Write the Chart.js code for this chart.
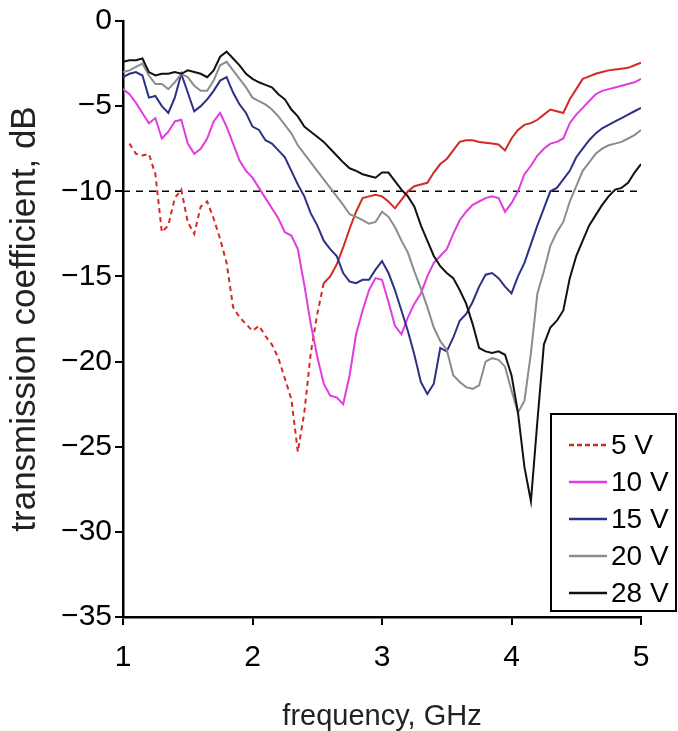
<!DOCTYPE html>
<html>
<head>
<meta charset="utf-8">
<script src="https://cdn.jsdelivr.net/npm/chart.js@4.4.1/dist/chart.umd.min.js"></script>
<style>
    html, body { margin: 0; padding: 0; background: #fff; }
    canvas { display: block; }
</style>
</head>
<body>
<canvas id="transmissionChart" width="678" height="731"></canvas>
<script>
// frequency grid, GHz
const freq = [
    1.00, 1.05, 1.10, 1.15, 1.20, 1.25, 1.30, 1.35, 1.40, 1.45,
    1.50, 1.55, 1.60, 1.65, 1.70, 1.75, 1.80, 1.85, 1.90, 1.95,
    2.00, 2.05, 2.10, 2.15, 2.20, 2.25, 2.30, 2.35, 2.40, 2.45,
    2.50, 2.55, 2.60, 2.65, 2.70, 2.75, 2.80, 2.85, 2.90, 2.95,
    3.00, 3.05, 3.10, 3.15, 3.20, 3.25, 3.30, 3.35, 3.40, 3.45,
    3.50, 3.55, 3.60, 3.65, 3.70, 3.75, 3.80, 3.85, 3.90, 3.95,
    4.00, 4.05, 4.10, 4.15, 4.20, 4.25, 4.30, 4.35, 4.40, 4.45,
    4.50, 4.55, 4.60, 4.65, 4.70, 4.75, 4.80, 4.85, 4.90, 4.95,
    5.00
];

// transmission coefficient, dB
const v5 = [
    null, -7.2, -7.8, -7.9, -7.8, -9.0, -12.4, -12.0, -10.4, -9.9,
    -11.8, -12.5, -10.9, -10.6, -11.6, -12.8, -14.2, -16.8, -17.4, -17.8,
    -18.2, -17.9, -18.5, -19.0, -19.8, -21.0, -22.2, -25.3, -23.0, -19.5,
    -17.2, -15.4, -15.0, -14.3, -13.3, -12.2, -11.2, -10.4, -10.3, -10.2,
    -10.3, -10.6, -11.0, -10.5, -10.0, -9.7, -9.6, -9.5, -8.9, -8.4,
    -8.1, -7.6, -7.1, -7.0, -7.0, -7.1, -7.15, -7.2, -7.25, -7.6,
    -6.9, -6.4, -6.1, -6.0, -5.8, -5.5, -5.2, -5.3, -5.4, -4.6,
    -4.0, -3.4, -3.25, -3.1, -3.0, -2.9, -2.85, -2.8, -2.75, -2.6,
    -2.45
];
const v10 = [
    -4.0, -4.3, -4.8, -5.4, -6.0, -5.7, -6.9, -6.5, -5.9, -5.8,
    -7.2, -7.8, -7.5, -6.9, -5.9, -5.4, -6.2, -7.2, -8.2, -8.8,
    -9.2, -9.8, -10.4, -11.0, -11.6, -12.4, -12.6, -13.4, -15.5, -17.8,
    -19.7, -21.3, -22.0, -22.1, -22.5, -20.8, -18.4, -17.0, -15.8, -15.1,
    -15.2, -16.5, -17.9, -18.4, -17.4, -16.6, -16.0, -15.0, -14.2, -13.8,
    -13.4, -12.5, -11.7, -11.2, -10.8, -10.6, -10.4, -10.3, -10.4, -11.2,
    -10.7, -10.0, -9.0, -8.5, -7.9, -7.5, -7.2, -7.1, -6.9, -6.0,
    -5.5, -5.1, -4.7, -4.3, -4.1, -4.0, -3.9, -3.8, -3.7, -3.6,
    -3.4
];
const v15 = [
    -3.3, -3.1, -3.0, -3.2, -4.5, -4.4, -5.0, -5.4, -4.5, -3.1,
    -4.2, -5.3, -5.0, -4.6, -4.1, -3.5, -3.3, -4.2, -4.9, -5.4,
    -6.2, -6.4, -7.0, -7.2, -7.6, -8.0, -8.8, -9.6, -10.3, -11.3,
    -12.0, -12.9, -13.4, -13.8, -14.8, -15.3, -15.4, -15.2, -15.2, -14.6,
    -14.1, -14.8, -15.8, -17.0, -18.2, -19.6, -21.2, -21.9, -21.3, -19.2,
    -19.4, -18.6, -17.6, -17.2, -16.5, -15.6, -14.9, -14.8, -15.1, -15.6,
    -16.0, -15.0, -14.2, -13.1, -12.0, -11.0, -10.0, -9.8, -9.3, -8.8,
    -8.0, -7.5, -7.0, -6.6, -6.3, -6.1, -5.9, -5.7, -5.5, -5.3,
    -5.1
];
const v20 = [
    -3.0, -2.9, -2.7, -2.5, -3.2, -3.7, -3.7, -4.0, -3.6, -3.1,
    -3.3, -3.8, -4.1, -4.1, -3.5, -2.6, -2.4, -2.9, -3.4, -3.9,
    -4.5, -4.7, -4.9, -5.2, -5.6, -6.1, -6.6, -7.3, -7.8, -8.3,
    -8.8, -9.3, -9.8, -10.3, -10.8, -11.35, -11.5, -11.7, -11.9, -11.8,
    -11.2, -11.5, -12.1, -12.9, -13.6, -14.7, -15.7, -16.8, -18.0, -18.8,
    -19.3, -20.8, -21.2, -21.5, -21.6, -21.4, -20.0, -19.8, -19.9, -20.3,
    -21.7, -23.0, -22.3, -19.5, -16.0, -14.7, -13.2, -12.4, -11.8, -10.6,
    -9.7, -8.8, -8.3, -7.8, -7.5, -7.3, -7.2, -7.1, -6.9, -6.7,
    -6.4
];
const v28 = [
    -2.4, -2.3, -2.3, -2.2, -3.0, -3.2, -3.1, -3.1, -3.0, -3.1,
    -2.9, -3.0, -3.1, -3.3, -2.9, -2.1, -1.8, -2.2, -2.6, -3.1,
    -3.4, -3.6, -3.75, -3.9, -4.3, -4.6, -5.2, -5.6, -6.2, -6.5,
    -6.8, -7.1, -7.5, -7.9, -8.3, -8.65, -8.8, -9.0, -9.1, -9.2,
    -8.9, -8.9, -9.4, -9.9, -10.3, -10.9, -12.0, -12.9, -13.8, -14.4,
    -14.8, -15.1, -15.8, -16.6, -17.8, -19.2, -19.4, -19.5, -19.4, -19.6,
    -20.8, -23.0, -26.2, -28.2, -23.5, -19.0, -18.0, -17.6, -17.0, -15.1,
    -13.8, -12.9, -12.0, -11.4, -10.8, -10.3, -9.9, -9.8, -9.5, -8.9,
    -8.4
];

const seriesLabels = ['5 V', '10 V', '15 V', '20 V', '28 V'];
const seriesColors = ['#d42a26', '#e03ce0', '#2c3184', '#8c8c8c', '#111111'];
const threshold = -10;
const dashedUntil = 2.55; // 5 V trace is dashed below this frequency

const FONT = '"Liberation Sans", Arial, sans-serif';
const toPoints = vals => freq.map((f, i) => ({ x: f, y: vals[i] }));

const boxLegend = {
    id: 'boxLegend',
    afterDraw(chart) {
        const c = chart.ctx;
        const x0 = 551, y0 = 414, w = 125, h = 197;
        c.save();
        c.fillStyle = '#fff';
        c.fillRect(x0, y0, w, h);
        c.strokeStyle = '#000';
        c.lineWidth = 2;
        c.strokeRect(x0, y0, w, h);
        c.font = '28px ' + FONT;
        c.textBaseline = 'middle';
        c.fillStyle = '#000';
        seriesLabels.forEach((lbl, i) => {
            const y = y0 + 31 + i * 37;
            c.strokeStyle = seriesColors[i];
            c.lineWidth = 2.5;
            c.setLineDash(i === 0 ? [5, 3] : []);
            c.beginPath();
            c.moveTo(569, y);
            c.lineTo(607, y);
            c.stroke();
            c.fillText(lbl, 611, y + 1);
        });
        c.restore();
    }
};

const ctx = document.getElementById('transmissionChart').getContext('2d');
const makeSet = (idx, vals, extra) => Object.assign({
    label: seriesLabels[idx],
    data: toPoints(vals),
    borderColor: seriesColors[idx],
    borderWidth: 2,
    pointRadius: 0,
    tension: 0,
    fill: false,
    order: 5 - idx
}, extra || {});

new Chart(ctx, {
    type: 'line',
    data: {
        datasets: [
            makeSet(0, v5, {
                spanGaps: true,
                segment: {
                    borderDash: s => s.p1.parsed.x <= dashedUntil ? [5, 4] : []
                }
            }),
            makeSet(1, v10),
            makeSet(2, v15),
            makeSet(3, v20),
            makeSet(4, v28),
            {
                label: 'threshold',
                data: [{ x: freq[0], y: threshold }, { x: freq[freq.length - 1], y: threshold }],
                borderColor: '#000',
                borderWidth: 1.5,
                borderDash: [7, 6],
                pointRadius: 0,
                order: 6
            }
        ]
    },
    options: {
        responsive: false,
        animation: false,
        layout: { padding: { top: 19, right: 37, left: 0, bottom: 0 } },
        plugins: {
            legend: { display: false },
            tooltip: { enabled: false }
        },
        scales: {
            x: {
                type: 'linear',
                min: 1,
                max: 5,
                afterFit: s => { s.height = 114; },
                border: { display: true, color: '#000', width: 2.5 },
                grid: { drawOnChartArea: false, drawTicks: true, tickLength: 8, color: '#000', lineWidth: 2 },
                ticks: {
                    stepSize: 1,
                    padding: 15,
                    color: '#000',
                    font: { family: FONT, size: 30 }
                },
                title: {
                    display: true,
                    text: 'frequency, GHz',
                    color: '#222',
                    padding: { top: 0, bottom: -3 },
                    font: { family: FONT, size: 29 }
                }
            },
            y: {
                min: -35,
                max: 0,
                afterFit: s => { s.width = 123; },
                border: { display: true, color: '#000', width: 2.5 },
                grid: { drawOnChartArea: false, drawTicks: true, tickLength: 8, color: '#000', lineWidth: 2 },
                ticks: {
                    stepSize: 5,
                    padding: 3,
                    color: '#000',
                    font: { family: FONT, size: 30 },
                    callback: v => v < 0 ? '\u2212' + Math.abs(v) : String(v)
                },
                title: {
                    display: true,
                    text: 'transmission coefficient, dB',
                    color: '#222',
                    padding: { top: 4, bottom: 0 },
                    font: { family: FONT, size: 35 }
                }
            }
        }
    },
    plugins: [boxLegend]
});
</script>
</body>
</html>
